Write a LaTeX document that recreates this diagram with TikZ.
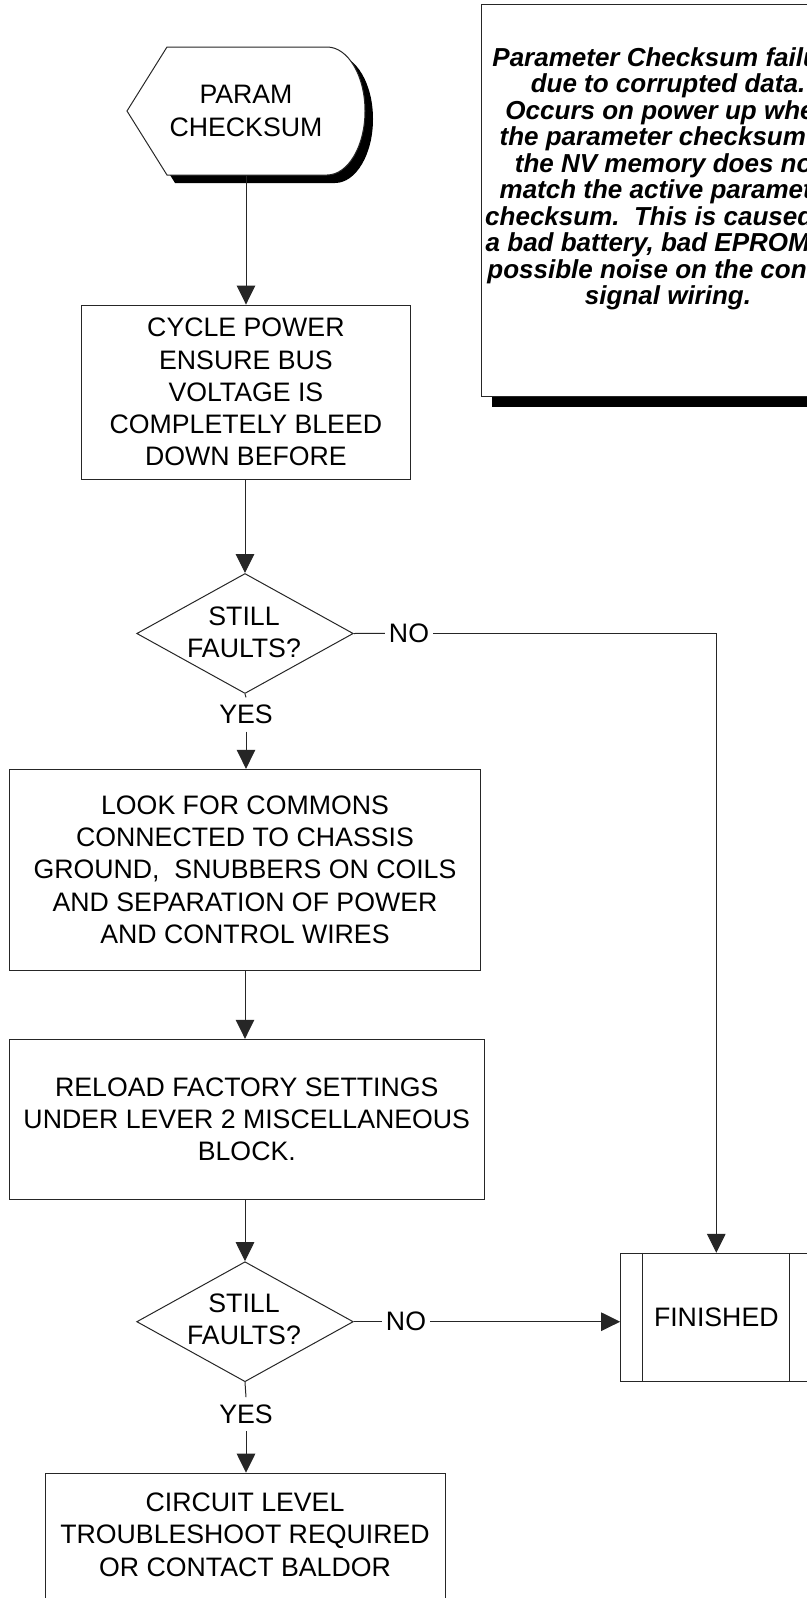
\documentclass[tikz,border=0pt]{standalone}
\usepackage{fontspec}
\setmainfont{Liberation Sans}
\usetikzlibrary{arrows.meta,shapes.geometric,shadows}

\begin{document}
\begin{tikzpicture}[x=1pt,y=-1pt,
  boxtxt/.style={font=\fontsize{26.7}{32.3}\selectfont, align=center, inner sep=0pt},
  notetxt/.style={font=\fontsize{26}{26.5}\selectfont\bfseries\itshape, align=center, inner sep=0pt},
  stepbox/.style={draw=black!85, line width=1pt, fill=white, inner sep=0pt, boxtxt},
  notebox/.style={draw=black!85, line width=1pt, fill=white, inner sep=0pt,
    drop shadow={shadow xshift=10pt, shadow yshift=-10pt, opacity=1, fill=black}},
  decision/.style={diamond, draw=black!85, line width=1pt, fill=white, inner sep=0pt,
    minimum width=216.6pt, minimum height=120pt},
  link/.style={draw=black!85, line width=1pt},
  flow/.style={link, -{Triangle[length=19pt,width=18.5pt]}},
  lbl/.style={boxtxt, fill=white, inner xsep=4pt, inner ysep=7.5pt},
]
\fill[white] (0,0) rectangle (806,1598);
\useasboundingbox (0,0) rectangle (806,1598);

% explanatory note with its drop shadow
\node[notebox, minimum width=372.6pt, minimum height=392.7pt] (note) at (668,200.35) {};
\node[notetxt, anchor=north] (notetext) at ([yshift=-43.7pt]note.north)
  {Parameter Checksum failure\\
   due to corrupted data.\\
   Occurs on power up when\\
   the parameter checksum in\\
   the NV memory does not\\
   match the active parameter\\
   checksum.\ \ This is caused by\\
   a bad battery, bad EPROM, or\\
   possible noise on the control\\
   signal wiring.};

% start symbol (display shape) with shadow
\begin{scope}[shift={(8,8)}]
  \fill[black] (127,111) -- (167,47) -- (327,47)
    arc[start angle=-90, end angle=90, x radius=38, y radius=64] -- (167,175) -- cycle;
\end{scope}
\draw[black!85, line width=1pt, fill=white] (127,111) -- (167,47) -- (327,47)
    arc[start angle=-90, end angle=90, x radius=38, y radius=64] -- (167,175) -- cycle;
\node[boxtxt, minimum height=128pt] (param) at (246,111) {PARAM\\CHECKSUM};

% process steps
\node[stepbox, minimum width=329.7pt, minimum height=174.3pt] (cyc) at (245.9,392.2)
  {CYCLE POWER\\ENSURE BUS\\VOLTAGE IS\\COMPLETELY BLEED\\DOWN BEFORE};
\node[decision] (d1) at (245,633.5) {};
\node[boxtxt] (d1text) at (244,632) {STILL\\FAULTS?};
\node[lbl] (no1) at (409,633.3) {NO};
\node[lbl] (yes1) at (246,714.5) {YES};
\node[stepbox, minimum width=471.4pt, minimum height=200.7pt] (look) at (245,869.7)
  {LOOK FOR COMMONS\\CONNECTED TO CHASSIS\\GROUND,\ \ SNUBBERS ON COILS\\AND SEPARATION OF POWER\\AND CONTROL WIRES};
\node[stepbox, minimum width=475pt, minimum height=160pt] (reload) at (246.8,1119.3)
  {RELOAD FACTORY SETTINGS\\UNDER LEVER 2 MISCELLANEOUS\\BLOCK.};
\node[decision] (d2) at (245,1321.7) {};
\node[boxtxt] (d2text) at (244,1319) {STILL\\FAULTS?};
\node[lbl] (no2) at (406,1321.7) {NO};
\node[lbl] (yes2) at (246,1414.2) {YES};
\node[stepbox, minimum width=191.3pt, minimum height=127.7pt] (fin) at (716.3,1317.2) {FINISHED};
\draw[link] ([xshift=22.6pt]fin.north west) -- ([xshift=22.6pt]fin.south west);
\draw[link] ([xshift=-22.6pt]fin.north east) -- ([xshift=-22.6pt]fin.south east);
\node[stepbox, minimum width=400pt, minimum height=150pt, anchor=north] (circ) at (245,1472.7) {};
\node[boxtxt] (circtext) at (245,1534.6)
  {CIRCUIT LEVEL\\TROUBLESHOOT REQUIRED\\OR CONTACT BALDOR};

% connectors
\draw[flow] (param.south) -- (param.south |- cyc.north);
\draw[flow] (cyc.south -| d1.north) -- (d1.north);
\draw[link] (d1.east) -- (no1.west);
\coordinate (turn) at (fin.north |- no1.east);
\draw[flow] (no1.east) -- (turn) -- (fin.north);
\draw[link] (d1.south) -- (yes1.north);
\draw[flow] (yes1.south) -- (yes1.south |- look.north);
\draw[flow] (look.south) -- (look.south |- reload.north);
\draw[flow] (d2.north |- reload.south) -- (d2.north);
\draw[link] (d2.east) -- (no2.west);
\draw[flow] (no2.east) -- (no2.east -| fin.west);
\draw[link] (d2.south) -- (yes2.north);
\draw[flow] (yes2.south) -- (yes2.south |- circ.north);
\end{tikzpicture}
\end{document}
